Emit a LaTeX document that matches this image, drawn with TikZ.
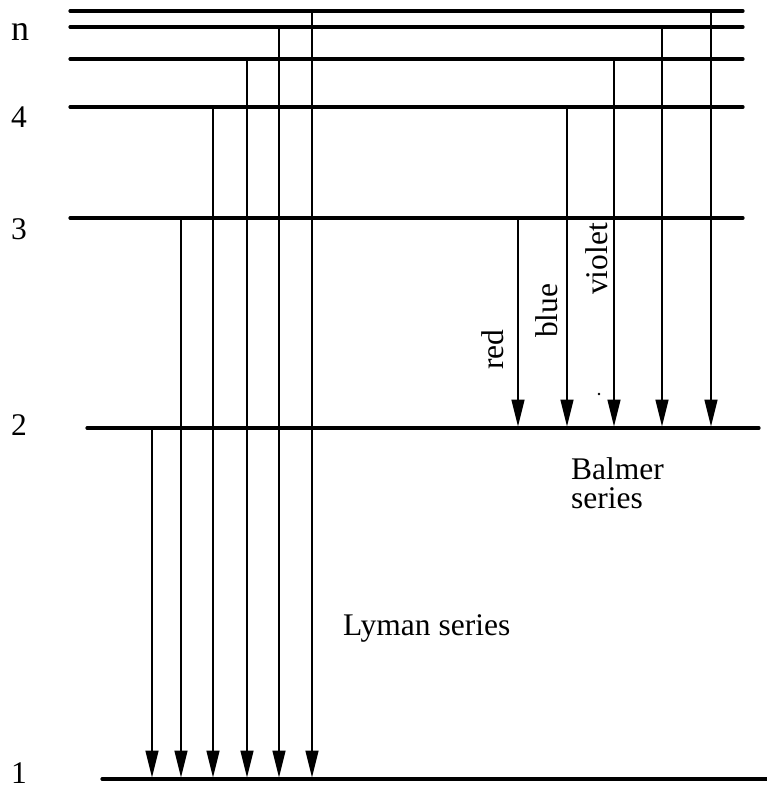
\documentclass[tikz,border=0pt]{standalone}
\usepackage{fontspec}
\setmainfont{Liberation Serif}
\usetikzlibrary{arrows.meta}
\begin{document}
\begin{tikzpicture}[x=1pt,y=-1pt,
  level/.style={line width=3.2pt,line cap=round},
  trans/.style={line width=1.6pt,-{Triangle[length=27pt,width=13pt]}},
  lab/.style={inner sep=0pt,font=\fontsize{31.5}{29}\selectfont},
  vlab/.style={inner sep=0pt,rotate=90,anchor=base west,font=\fontsize{31.5}{29}\selectfont}]
\useasboundingbox (0,0) rectangle (767,789);

% energy levels (left and right ends)
\coordinate (l7a) at (70,11);   \coordinate (l7b) at (743,11);
\coordinate (l6a) at (70,27);   \coordinate (l6b) at (743,27);
\coordinate (l5a) at (70,59);   \coordinate (l5b) at (743,59);
\coordinate (l4a) at (70,107);  \coordinate (l4b) at (743,107);
\coordinate (l3a) at (70,218);  \coordinate (l3b) at (743,218);
\coordinate (l2a) at (87,428);  \coordinate (l2b) at (759,428);
\coordinate (l1a) at (102,779); \coordinate (l1b) at (770,779);
\foreach \i in {1,...,7} \draw[level] (l\i a) -- (l\i b);

% arrow tip targets, just above the lower levels
\coordinate (t1) at (0,777.5);
\coordinate (t2) at (0,426.5);

% Lyman series
\coordinate (ly1) at (152,0);
\coordinate (ly2) at (181,0);
\coordinate (ly3) at (213,0);
\coordinate (ly4) at (247,0);
\coordinate (ly5) at (279,0);
\coordinate (ly6) at (312,0);
\draw[trans] (ly1 |- l2a) -- (ly1 |- t1);
\draw[trans] (ly2 |- l3a) -- (ly2 |- t1);
\draw[trans] (ly3 |- l4a) -- (ly3 |- t1);
\draw[trans] (ly4 |- l5a) -- (ly4 |- t1);
\draw[trans] (ly5 |- l6a) -- (ly5 |- t1);
\draw[trans] (ly6 |- l7a) -- (ly6 |- t1);

% Balmer series
\coordinate (ba1) at (518,0);
\coordinate (ba2) at (567,0);
\coordinate (ba3) at (614,0);
\coordinate (ba4) at (662,0);
\coordinate (ba5) at (711,0);
\draw[trans] (ba1 |- l3a) -- (ba1 |- t2);
\draw[trans] (ba2 |- l4a) -- (ba2 |- t2);
\draw[trans] (ba3 |- l5a) -- (ba3 |- t2);
\draw[trans] (ba4 |- l6a) -- (ba4 |- t2);
\draw[trans] (ba5 |- l7a) -- (ba5 |- t2);

% level numbers
\node[lab,anchor=base west,font=\fontsize{36}{36}\selectfont] (nn) at (11,41) {n};
\node[lab,anchor=base west] (n4) at (11,128) {4};
\node[lab,anchor=base west] (n3) at (11,239) {3};
\node[lab,anchor=base west] (n2) at (11,435) {2};
\node[lab,anchor=base west] (n1) at (11,783) {1};

% line colours
\node[vlab] (red) at (503,370) {red};
\node[vlab] (blue) at (557,338) {blue};
\node[vlab] (violet) at (607,295) {violet};
\fill (599,394) circle (1.3);

% series names
\node[lab,anchor=base west,align=left] (balmer) at (571,508) {Balmer\\series};
\node[lab,anchor=base west] (lyman) at (343,635) {Lyman series};
\end{tikzpicture}
\end{document}
